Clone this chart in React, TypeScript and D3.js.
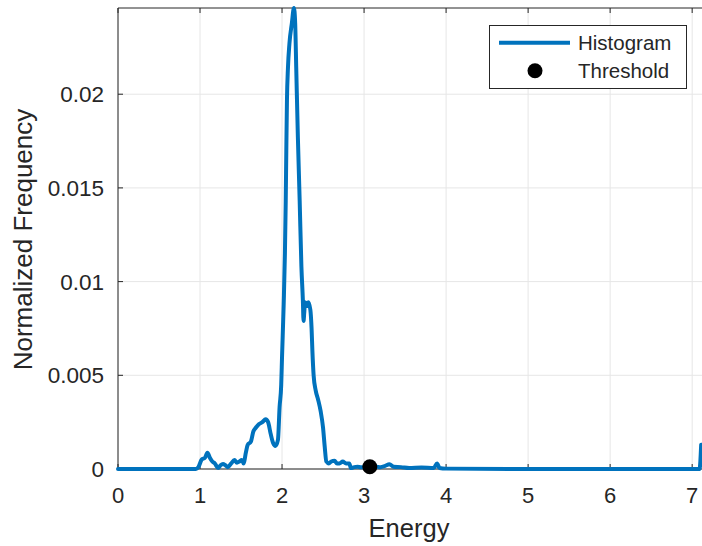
import React from "react";
import * as d3 from "d3";

const energy = [
  0, 0.5, 0.95, 0.98, 1.02, 1.06, 1.09, 1.12, 1.15, 1.18, 1.22, 1.25, 1.28, 1.31, 1.34, 1.38,
  1.42, 1.45, 1.48, 1.51, 1.53, 1.56, 1.58, 1.62, 1.65, 1.68, 1.72, 1.76, 1.8, 1.83, 1.86,
  1.89, 1.92, 1.95, 1.97, 1.99, 2.0, 2.02, 2.035, 2.045, 2.052, 2.06, 2.072, 2.09, 2.12,
  2.145, 2.16, 2.173, 2.193, 2.215, 2.236, 2.254, 2.262, 2.27, 2.28, 2.3, 2.32, 2.345, 2.36,
  2.37, 2.385, 2.41, 2.44, 2.47, 2.5, 2.52, 2.54, 2.57, 2.6, 2.64, 2.67, 2.7, 2.74, 2.78,
  2.82, 2.84, 2.88, 2.92, 2.96, 3.0, 3.05, 3.1, 3.15, 3.2, 3.25, 3.31, 3.36, 3.45, 3.55,
  3.7, 3.85, 3.89, 3.92, 4.0, 5.0, 7.09, 7.11,
];
const frequency = [
  0, 0, 0, 0.0001, 0.0005, 0.0006, 0.00087, 0.0006, 0.0004, 0.0003, 0.00005, 0.0002, 0.00027,
  0.0002, 0.0001, 0.0003, 0.00048, 0.00034, 0.0004, 0.00048, 0.0003, 0.0009, 0.00128, 0.00146,
  0.002, 0.0022, 0.0024, 0.0025, 0.00265, 0.0025, 0.0019, 0.0014, 0.00123, 0.00155, 0.0033,
  0.0045, 0.006, 0.0088, 0.0115, 0.0143, 0.017, 0.0197, 0.0214, 0.0227, 0.0238,
  0.0246, 0.0238, 0.0214, 0.0177, 0.0143, 0.0108, 0.009, 0.0079, 0.0083, 0.0089, 0.0087,
  0.0089, 0.0085, 0.0075, 0.0063, 0.005, 0.0042, 0.0037, 0.0031, 0.0022, 0.0012, 0.0004,
  0.0003, 0.0004, 0.00044, 0.0003, 0.0003, 0.0004, 0.0003, 0.0003, 0.00005, 0.0001, 0.00012,
  0.0001, 0.0001, 0.00005, 0.0001, 0.00012, 0.0001, 0.00015, 0.00025, 0.00012, 0.0001,
  0.00005, 0.00008, 0.00005, 0.0003, 0.00005, 0.00002, 0, 0, 0.0013,
];
const thresholdPoint = [{ energy: 3.07, frequency: 0.00012 }];
const xTicks = [0, 1, 2, 3, 4, 5, 6, 7];
const yTicks = [0, 0.005, 0.01, 0.015, 0.02];
const yTickLabels = ["0", "0.005", "0.01", "0.015", "0.02"];
const legendLabels = ["Histogram", "Threshold"];

const W = 702;
const H = 546;
const left = 118;
const right = 702;
const top = 8;
const bottom = 469;
const font = "'Liberation Sans', Arial, Helvetica, sans-serif";
const txt = "#262626";
const blue = "#0072BD";

export default function App() {
  const x = d3.scaleLinear().domain([0, 7.12]).range([left, right]);
  const y = d3.scaleLinear().domain([0, 0.0246]).range([bottom, top]);
  const pts = energy.map((e, i) => [e, frequency[i]] as [number, number]);
  const line = d3
    .line<[number, number]>()
    .x((d) => x(d[0]))
    .y((d) => y(d[1]))
    .curve(d3.curveMonotoneX);

  return (
    <svg
      width={W}
      height={H}
      style={{ position: "absolute", left: 0, top: 0, background: "#fff" }}
      fontFamily={font}
    >
      <rect x={0} y={0} width={W} height={H} fill="#fff" />
      {xTicks.map((t) => (
        <line key={"gx" + t} x1={x(t)} x2={x(t)} y1={top} y2={bottom} stroke="#e6e6e6" strokeWidth={1} />
      ))}
      {yTicks.map((t) => (
        <line key={"gy" + t} x1={left} x2={right} y1={y(t)} y2={y(t)} stroke="#e6e6e6" strokeWidth={1} />
      ))}
      <line x1={left} x2={right} y1={bottom} y2={bottom} stroke={txt} strokeWidth={1} />
      <line x1={left} x2={right} y1={top} y2={top} stroke={txt} strokeWidth={1} />
      <line x1={left} x2={left} y1={top} y2={bottom} stroke={txt} strokeWidth={1} />
      {xTicks.map((t) => (
        <g key={"tx" + t}>
          <line x1={x(t)} x2={x(t)} y1={bottom} y2={bottom - 5} stroke={txt} />
          <line x1={x(t)} x2={x(t)} y1={top} y2={top + 5} stroke={txt} />
          <text x={x(t)} y={503} textAnchor="middle" fontSize={22} fill={txt}>
            {t}
          </text>
        </g>
      ))}
      {yTicks.map((t, i) => (
        <g key={"ty" + t}>
          <line x1={left} x2={left + 5} y1={y(t)} y2={y(t)} stroke={txt} />
          <text x={104} y={y(t) + 7.9} textAnchor="end" fontSize={22.5} fill={txt}>
            {yTickLabels[i]}
          </text>
        </g>
      ))}
      <path d={line(pts) || ""} fill="none" stroke={blue} strokeWidth={4} strokeLinejoin="round" strokeLinecap="round" />
      {thresholdPoint.map((p, i) => (
        <circle key={i} cx={x(p.energy)} cy={y(p.frequency)} r={7.5} fill="#000" />
      ))}
      <text x={409} y={537} textAnchor="middle" fontSize={25.5} fill={txt}>
        Energy
      </text>
      <text
        transform={`translate(31.5,${(top + bottom) / 2 + 1}) rotate(-90)`}
        textAnchor="middle"
        fontSize={26}
        fill={txt}
      >
        Normalized Frequency
      </text>
      <rect x={489.5} y={25.5} width={197} height={63} fill="#fff" stroke={txt} strokeWidth={1} />
      <line x1={499} x2={570} y1={42.7} y2={42.7} stroke={blue} strokeWidth={4} />
      <circle cx={535} cy={70.7} r={7.5} fill="#000" />
      <text x={578} y={50} fontSize={20.5} fill={txt}>
        {legendLabels[0]}
      </text>
      <text x={578} y={78} fontSize={20.5} fill={txt}>
        {legendLabels[1]}
      </text>
    </svg>
  );
}
